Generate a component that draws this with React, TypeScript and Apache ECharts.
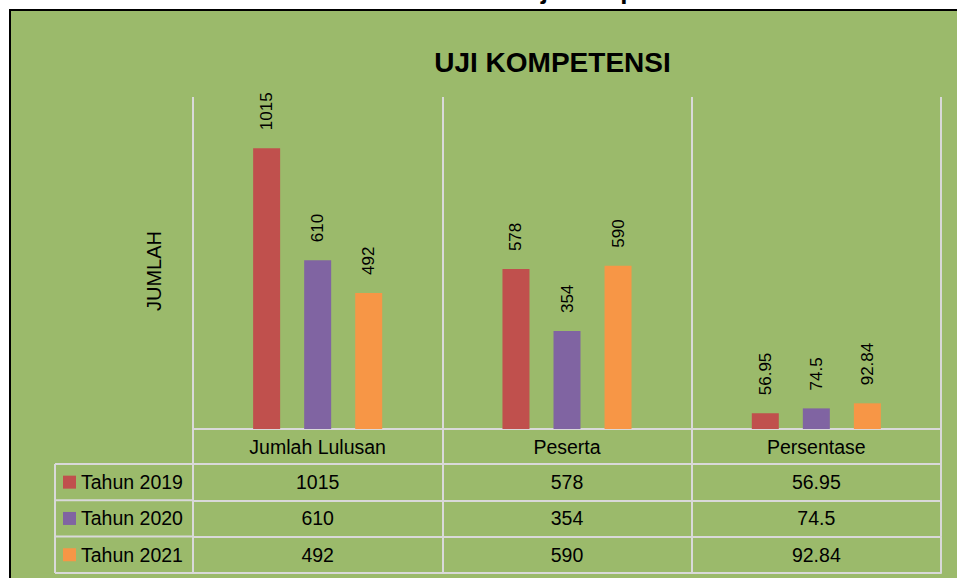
import React, { useEffect, useRef } from 'react';
import * as echarts from 'echarts';

const categories = ['Jumlah Lulusan', 'Peserta', 'Persentase'];
const seriesNames = ['Tahun 2019', 'Tahun 2020', 'Tahun 2021'];
const values2019 = [1015, 578, 56.95];
const values2020 = [610, 354, 74.5];
const values2021 = [492, 590, 92.84];
const yMin = 0;
const yMax = 1200;
const chartTitle = 'UJI KOMPETENSI';
const pageHeading = 'Uji Kompetensi';
const yAxisName = 'JUMLAH';

const W = 957;
const H = 578;
const COLORS = ['#C0504D', '#8064A2', '#F79646'];
const GREEN = '#9BBA6B';
const LINE = '#D9D9D9';
const FONT = "'Liberation Sans', Arial, Helvetica, sans-serif";
const TABLE_FS = 19.5;

const gridLeft = 193;
const gridRight = 941;
const gridTop = 97;
const axisY = 429;
const headerH = 35;
const rowH = 36.3;
const legendLeft = 55;

export default function App() {
  const ref = useRef<HTMLDivElement>(null);
  useEffect(() => {
    if (!ref.current) return;
    const chart = echarts.init(ref.current, null, { renderer: 'svg', width: W, height: H });
    const allValues = [values2019, values2020, values2021];
    const lineStyle = { color: LINE, width: 2 };

    const rowTops = [0, 1, 2, 3].map((i) => axisY + headerH + i * rowH);

    const xAxes: any[] = [
      {
        type: 'category',
        data: categories,
        position: 'bottom',
        axisLine: { show: true, lineStyle },
        axisTick: { show: true, length: headerH, lineStyle },
        axisLabel: { fontSize: TABLE_FS, color: '#000', fontFamily: FONT, margin: headerH / 2, verticalAlign: 'middle' },
        splitLine: { show: true, lineStyle },
      },
    ];
    allValues.forEach((vals, i) => {
      xAxes.push({
        type: 'category',
        data: vals.map((v) => String(v)),
        position: 'bottom',
        offset: headerH + i * rowH,
        axisLine: { show: true, lineStyle },
        axisTick: { show: true, length: rowH, lineStyle },
        axisLabel: { fontSize: TABLE_FS, color: '#000', fontFamily: FONT, margin: rowH / 2, verticalAlign: 'middle' },
        splitLine: { show: false },
      });
    });
    xAxes.push({
      type: 'category',
      data: categories,
      position: 'bottom',
      offset: headerH + 3 * rowH,
      axisLine: { show: true, lineStyle },
      axisTick: { show: false },
      axisLabel: { show: false },
      splitLine: { show: false },
    });

    const graphics: any[] = [
      {
        type: 'rect',
        z: -10,
        shape: { x: 10, y: 10, width: W + 20, height: H + 20 },
        style: { fill: GREEN, stroke: '#000', lineWidth: 2 },
        silent: true,
      },
      {
        type: 'text',
        x: 522,
        y: 3,
        style: { text: pageHeading, font: `bold 26px ${FONT}`, fill: '#000', textAlign: 'left', textVerticalAlign: 'bottom' },
      },
      {
        type: 'text',
        x: 552.5,
        y: 62,
        style: { text: chartTitle, font: `bold 28px ${FONT}`, fill: '#000', textAlign: 'center', textVerticalAlign: 'middle' },
      },
      {
        type: 'line',
        shape: { x1: legendLeft, y1: rowTops[0], x2: legendLeft, y2: rowTops[3] },
        style: { stroke: LINE, lineWidth: 2 },
      },
    ];
    rowTops.forEach((y) => {
      graphics.push({
        type: 'line',
        shape: { x1: legendLeft, y1: y, x2: gridLeft, y2: y },
        style: { stroke: LINE, lineWidth: 2 },
      });
    });

    const legends = seriesNames.map((n, i) => ({
      data: [n],
      left: 63,
      top: rowTops[i] + rowH / 2 - 10,
      orient: 'vertical',
      icon: 'rect',
      itemWidth: 13,
      itemHeight: 13,
      itemGap: 0,
      padding: 0,
      selectedMode: false,
      textStyle: { fontSize: TABLE_FS, lineHeight: 20, color: '#000', fontFamily: FONT },
    }));

    chart.setOption({
      animation: false,
      backgroundColor: '#fff',
      color: COLORS,
      grid: { left: gridLeft, right: W - gridRight, top: gridTop, bottom: H - axisY, containLabel: false },
      graphic: graphics,
      legend: legends,
      xAxis: xAxes,
      yAxis: {
        type: 'value',
        min: yMin,
        max: yMax,
        axisLabel: { show: false },
        axisLine: { show: false },
        axisTick: { show: false },
        splitLine: { show: false },
        name: yAxisName,
        nameLocation: 'middle',
        nameRotate: 90,
        nameGap: 29,
        nameTextStyle: { fontSize: 20, color: '#000', fontFamily: FONT, padding: [0, 16, 0, 0] },
      },
      series: seriesNames.map((n, i) => ({
        name: n,
        type: 'bar',
        xAxisIndex: 0,
        data: allValues[i],
        barWidth: 27,
        barGap: '89%',
        itemStyle: { color: COLORS[i] },
        label: {
          show: true,
          position: 'top',
          rotate: 90,
          align: 'left',
          verticalAlign: 'middle',
          distance: 18,
          fontSize: 17,
          color: '#000',
          fontFamily: FONT,
        },
      })),
    });
    return () => chart.dispose();
  }, []);
  return <div ref={ref} style={{ position: 'absolute', left: 0, top: 0, width: W, height: H }} />;
}
